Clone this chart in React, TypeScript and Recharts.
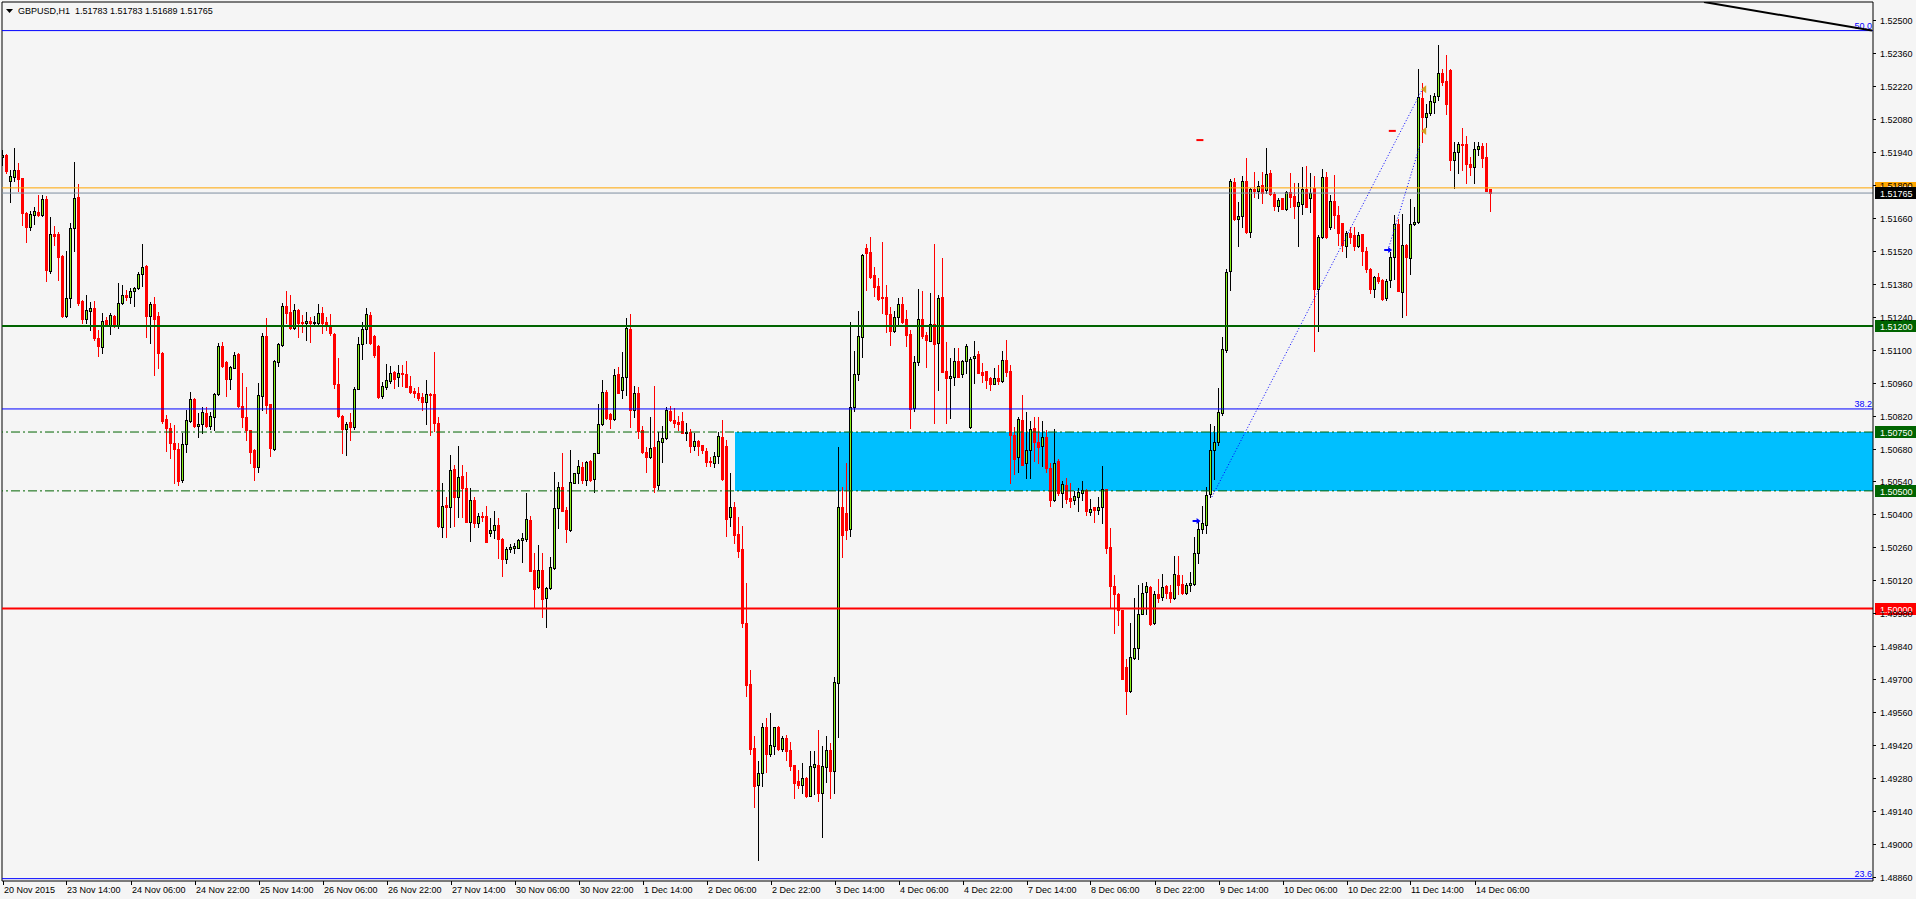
import React from "react";
import { ComposedChart, Bar, XAxis, YAxis, ReferenceLine, ReferenceArea, ReferenceDot } from "recharts";

const FONT = "'Liberation Sans', Arial, sans-serif";
const BULL = "#86f01a";
const BEAR = "#ff0000";

const OPEN = [
1.51920,1.51928,1.51817,1.51834,1.51865,1.51827,1.51681,1.51622,1.51670,1.51684,
1.51670,1.51740,1.51435,1.51590,1.51590,1.51497,1.51242,1.51320,1.51615,1.51747,
1.51306,1.51230,1.51265,1.51275,1.51148,1.51112,1.51225,1.51204,1.51242,1.51204,
1.51300,1.51332,1.51325,1.51348,1.51360,1.51420,1.51455,1.51244,1.51293,1.51242,
1.51087,1.50805,1.50765,1.50702,1.50680,1.50546,1.50700,1.50798,1.50891,1.50777,
1.50785,1.50829,1.50775,1.50815,1.50910,1.51115,1.51048,1.50976,1.51024,1.51081,
1.50862,1.50815,1.50758,1.50673,1.50602,1.50903,1.51157,1.50869,1.50680,1.51046,
1.51119,1.51285,1.51258,1.51190,1.51267,1.51218,1.51211,1.51223,1.51213,1.51213,
1.51257,1.51218,1.51197,1.51166,1.50956,1.50820,1.50761,1.50791,1.50770,1.50934,
1.51122,1.51187,1.51247,1.51157,1.51115,1.50903,1.50942,1.50968,1.51005,1.50982,
1.50999,1.50997,1.50946,1.50924,1.50915,1.50900,1.50879,1.50910,1.50912,1.50787,
1.50348,1.50440,1.50430,1.50593,1.50476,1.50563,1.50511,1.50369,1.50461,1.50362,
1.50393,1.50393,1.50323,1.50334,1.50355,1.50296,1.50209,1.50252,1.50256,1.50259,
1.50291,1.50294,1.50376,1.50164,1.50091,1.50164,1.50044,1.50086,1.50171,1.50426,
1.50515,1.50419,1.50334,1.50535,1.50575,1.50600,1.50546,1.50627,1.50549,1.50663,
1.50783,1.50919,1.50827,1.50804,1.50997,1.50929,1.50983,1.51188,1.50844,1.50915,
1.50759,1.50665,1.50643,1.50688,1.50524,1.50709,1.50723,1.50840,1.50801,1.50793,
1.50798,1.50745,1.50749,1.50692,1.50712,1.50695,1.50670,1.50628,1.50617,1.50648,
1.50730,1.50691,1.50390,1.50433,1.50317,1.50253,1.49937,1.49680,1.49406,1.49251,
1.49303,1.49498,1.49382,1.49418,1.49498,1.49402,1.49449,1.49399,1.49335,1.49268,
1.49251,1.49282,1.49205,1.49328,1.49335,1.49218,1.49328,1.49399,1.49311,1.49685,
1.50433,1.50407,1.50338,1.50855,1.50995,1.51155,1.51530,1.51516,1.51417,1.51370,
1.51323,1.51325,1.51251,1.51180,1.51237,1.51294,1.51230,1.51166,1.50851,1.51049,
1.51229,1.51162,1.51138,1.51207,1.51127,1.51322,1.51009,1.50978,1.50985,1.51053,
1.50995,1.51053,1.50770,1.51063,1.51081,1.51006,1.51009,1.50978,1.50954,1.50981,
1.50968,1.51056,1.51009,1.50737,1.50645,1.50801,1.50617,1.50674,1.50769,1.50709,
1.50692,1.50727,1.50599,1.50463,1.50628,1.50490,1.50523,1.50469,1.50463,1.50474,
1.50490,1.50502,1.50409,1.50430,1.50420,1.50433,1.50506,1.50263,1.50095,1.50063,
1.49994,1.49754,1.49650,1.49791,1.49832,1.49978,1.50072,1.50092,1.49938,1.50063,
1.50051,1.50095,1.50072,1.50043,1.50144,1.50103,1.50068,1.50100,1.50105,1.50235,
1.50336,1.50357,1.50485,1.50674,1.50706,1.50831,1.51100,1.51433,1.51812,1.51656,
1.51669,1.51818,1.51600,1.51782,1.51774,1.51799,1.51779,1.51851,1.51763,1.51709,
1.51742,1.51698,1.51770,1.51753,1.51710,1.51719,1.51781,1.51743,1.51785,1.51356,
1.51577,1.51832,1.51622,1.51733,1.51672,1.51637,1.51540,1.51594,1.51587,1.51540,
1.51591,1.51520,1.51441,1.51356,1.51410,1.51396,1.51318,1.51396,1.51492,1.51634,
1.51346,1.51545,1.51488,1.51634,1.51641,1.52167,1.52089,1.52104,1.52153,1.52179,
1.52276,1.52242,1.52288,1.51905,1.51941,1.51972,1.51972,1.51888,1.51877,1.51951,
1.51965,1.51919,1.51783,
];

const HIGH = [
1.51950,1.51930,1.51863,1.51956,1.51891,1.51831,1.51686,1.51690,1.51704,1.51756,
1.51756,1.51752,1.51662,1.51625,1.51598,1.51502,1.51519,1.51636,1.51898,1.51803,
1.51310,1.51332,1.51303,1.51306,1.51183,1.51254,1.51240,1.51254,1.51247,1.51381,
1.51374,1.51353,1.51360,1.51367,1.51431,1.51548,1.51459,1.51303,1.51322,1.51259,
1.51089,1.50822,1.50787,1.50780,1.50702,1.50744,1.50843,1.50921,1.50893,1.50829,
1.50855,1.50857,1.50835,1.50917,1.51129,1.51133,1.51053,1.51030,1.51091,1.51084,
1.50999,1.50942,1.50760,1.50676,1.50959,1.51169,1.51234,1.50871,1.51056,1.51129,
1.51299,1.51350,1.51332,1.51292,1.51271,1.51247,1.51261,1.51237,1.51242,1.51293,
1.51279,1.51240,1.51251,1.51169,1.51063,1.50822,1.50794,1.50829,1.50942,1.51155,
1.51218,1.51275,1.51261,1.51162,1.51119,1.50964,1.51039,1.51030,1.51010,1.51033,
1.51035,1.51052,1.50988,1.50936,1.50940,1.50917,1.50971,1.50915,1.51092,1.50815,
1.50535,1.50476,1.50653,1.50610,1.50691,1.50610,1.50582,1.50511,1.50476,1.50405,
1.50410,1.50436,1.50384,1.50416,1.50384,1.50298,1.50260,1.50273,1.50277,1.50294,
1.50320,1.50493,1.50393,1.50235,1.50270,1.50235,1.50093,1.50221,1.50579,1.50539,
1.50660,1.50433,1.50674,1.50578,1.50631,1.50621,1.50627,1.50631,1.50661,1.50869,
1.50971,1.50929,1.50830,1.51016,1.51028,1.51092,1.51233,1.51252,1.50946,1.50940,
1.50776,1.50688,1.50813,1.50946,1.50752,1.50776,1.50855,1.50861,1.50851,1.50818,
1.50837,1.50787,1.50762,1.50745,1.50714,1.50697,1.50681,1.50642,1.50667,1.50752,
1.50801,1.50716,1.50577,1.50454,1.50391,1.50351,1.50110,1.49739,1.49459,1.49354,
1.49515,1.49534,1.49555,1.49499,1.49500,1.49459,1.49463,1.49435,1.49337,1.49314,
1.49345,1.49284,1.49396,1.49396,1.49484,1.49416,1.49459,1.49430,1.49711,1.50688,
1.50518,1.50617,1.51219,1.51094,1.51265,1.51506,1.51549,1.51580,1.51452,1.51403,
1.51559,1.51374,1.51282,1.51264,1.51318,1.51322,1.51268,1.51185,1.51074,1.51357,
1.51349,1.51176,1.51339,1.51549,1.51332,1.51488,1.51134,1.51063,1.51105,1.51105,
1.51056,1.51124,1.51070,1.51137,1.51095,1.51042,1.51010,1.50985,1.51020,1.51035,
1.51094,1.51141,1.51035,1.50773,1.50812,1.50907,1.50836,1.50798,1.50812,1.50815,
1.50797,1.50759,1.50620,1.50762,1.50636,1.50544,1.50555,1.50534,1.50498,1.50511,
1.50544,1.50507,1.50466,1.50433,1.50474,1.50604,1.50508,1.50344,1.50144,1.50065,
1.49996,1.49786,1.49937,1.50043,1.50100,1.50108,1.50111,1.50095,1.50076,1.50124,
1.50149,1.50100,1.50100,1.50225,1.50222,1.50141,1.50108,1.50157,1.50303,1.50368,
1.50436,1.50518,1.50783,1.50775,1.50937,1.51152,1.51444,1.51823,1.51828,1.51725,
1.51839,1.51916,1.51786,1.51856,1.51815,1.51856,1.51958,1.51864,1.51770,1.51742,
1.51744,1.51774,1.51852,1.51806,1.51809,1.51874,1.51880,1.51849,1.51838,1.51587,
1.51866,1.51856,1.51757,1.51842,1.51710,1.51639,1.51605,1.51620,1.51620,1.51601,
1.51593,1.51537,1.51445,1.51413,1.51424,1.51398,1.51399,1.51516,1.51672,1.51654,
1.51676,1.51549,1.51738,1.51705,1.52291,1.52234,1.52143,1.52182,1.52191,1.52394,
1.52291,1.52351,1.52291,1.51983,1.51983,1.52040,1.52007,1.51920,1.51983,1.51983,
1.51976,1.51976,1.51783,
];

const LOW = [
1.51884,1.51851,1.51728,1.51817,1.51772,1.51629,1.51558,1.51608,1.51633,1.51667,
1.51668,1.51393,1.51427,1.51544,1.51395,1.51240,1.51237,1.51282,1.51520,1.51289,
1.51211,1.51211,1.51183,1.51141,1.51073,1.51087,1.51204,1.51166,1.51197,1.51190,
1.51293,1.51310,1.51300,1.51286,1.51357,1.51371,1.51155,1.51126,1.50992,1.51020,
1.50787,1.50670,1.50638,1.50532,1.50525,1.50539,1.50666,1.50794,1.50772,1.50730,
1.50744,1.50772,1.50761,1.50758,1.50907,1.51027,1.50905,1.50931,1.51020,1.50857,
1.50772,1.50716,1.50620,1.50546,1.50581,1.50843,1.50832,1.50648,1.50673,1.51030,
1.51115,1.51215,1.51187,1.51187,1.51155,1.51176,1.51141,1.51131,1.51203,1.51206,
1.51169,1.51183,1.51162,1.50935,1.50815,1.50662,1.50651,1.50716,1.50761,1.50931,
1.51061,1.51126,1.51123,1.51070,1.50893,1.50896,1.50931,1.50959,1.50935,1.50945,
1.50946,1.50940,1.50917,1.50900,1.50886,1.50844,1.50784,1.50738,1.50756,1.50348,
1.50303,1.50303,1.50345,1.50351,1.50391,1.50391,1.50368,1.50289,1.50348,1.50348,
1.50370,1.50284,1.50308,1.50299,1.50214,1.50139,1.50192,1.50242,1.50235,1.50256,
1.50199,1.50289,1.50160,1.50001,1.50086,1.49966,1.49923,1.50082,1.50167,1.50341,
1.50415,1.50285,1.50331,1.50532,1.50535,1.50535,1.50525,1.50543,1.50497,1.50662,
1.50780,1.50807,1.50766,1.50801,1.50916,1.50893,1.50907,1.50773,1.50815,1.50723,
1.50663,1.50582,1.50638,1.50497,1.50510,1.50624,1.50719,1.50798,1.50773,1.50759,
1.50745,1.50716,1.50667,1.50674,1.50653,1.50662,1.50606,1.50606,1.50603,1.50617,
1.50548,1.50308,1.50351,1.50280,1.50221,1.49923,1.49629,1.49382,1.49159,1.48932,
1.49246,1.49307,1.49373,1.49382,1.49399,1.49396,1.49357,1.49314,1.49194,1.49236,
1.49215,1.49201,1.49204,1.49212,1.49184,1.49031,1.49265,1.49194,1.49215,1.49456,
1.50218,1.50294,1.50310,1.50840,1.50971,1.51067,1.51353,1.51405,1.51328,1.51311,
1.51257,1.51176,1.51120,1.51176,1.51205,1.51214,1.51115,1.50766,1.50840,1.51035,
1.51150,1.51025,1.51136,1.50787,1.50928,1.51005,1.50787,1.50808,1.50950,1.50982,
1.50985,1.51002,1.50766,1.50960,1.51001,1.50964,1.50935,1.50928,1.50953,1.50952,
1.50964,1.50988,1.50532,1.50572,1.50582,1.50609,1.50553,1.50553,1.50628,1.50620,
1.50606,1.50580,1.50436,1.50458,1.50482,1.50430,1.50450,1.50430,1.50445,1.50414,
1.50463,1.50397,1.50397,1.50368,1.50401,1.50365,1.50235,1.50002,1.49897,1.49929,
1.49699,1.49552,1.49645,1.49786,1.49786,1.49975,1.49975,1.49930,1.49933,1.50030,
1.50035,1.50043,1.50030,1.50040,1.50063,1.50060,1.50060,1.50073,1.50100,1.50193,
1.50320,1.50323,1.50474,1.50550,1.50693,1.50823,1.51092,1.51352,1.51652,1.51539,
1.51620,1.51595,1.51580,1.51750,1.51742,1.51721,1.51766,1.51758,1.51693,1.51688,
1.51696,1.51693,1.51705,1.51658,1.51540,1.51676,1.51704,1.51686,1.51095,1.51180,
1.51573,1.51573,1.51611,1.51615,1.51545,1.51520,1.51492,1.51552,1.51523,1.51537,
1.51460,1.51431,1.51339,1.51325,1.51382,1.51311,1.51311,1.51368,1.51399,1.51348,
1.51240,1.51247,1.51421,1.51629,1.51637,1.51983,1.52047,1.52097,1.52104,1.52160,
1.52224,1.52101,1.51863,1.51785,1.51852,1.51863,1.51806,1.51842,1.51806,1.51927,
1.51874,1.51773,1.51689,
];

const CLOSE = [
1.51928,1.51860,1.51837,1.51865,1.51823,1.51681,1.51622,1.51674,1.51688,1.51671,
1.51741,1.51438,1.51589,1.51582,1.51494,1.51242,1.51320,1.51615,1.51742,1.51296,
1.51230,1.51268,1.51275,1.51148,1.51115,1.51220,1.51208,1.51245,1.51204,1.51300,
1.51332,1.51325,1.51348,1.51360,1.51421,1.51451,1.51244,1.51293,1.51230,1.51084,
1.50798,1.50765,1.50702,1.50680,1.50543,1.50700,1.50801,1.50891,1.50777,1.50784,
1.50833,1.50775,1.50818,1.50911,1.51115,1.51031,1.50976,1.51027,1.51077,1.50862,
1.50815,1.50758,1.50666,1.50602,1.50907,1.51157,1.50864,1.50682,1.51053,1.51122,
1.51285,1.51257,1.51190,1.51267,1.51211,1.51211,1.51220,1.51213,1.51217,1.51254,
1.51214,1.51206,1.51169,1.50956,1.50819,1.50761,1.50786,1.50770,1.50931,1.51122,
1.51187,1.51250,1.51126,1.51077,1.50900,1.50945,1.50971,1.50999,1.50974,1.50999,
1.50996,1.50943,1.50922,1.50915,1.50893,1.50879,1.50912,1.50907,1.50787,1.50349,
1.50436,1.50433,1.50589,1.50476,1.50558,1.50511,1.50369,1.50461,1.50365,1.50393,
1.50390,1.50285,1.50334,1.50355,1.50294,1.50209,1.50252,1.50263,1.50266,1.50291,
1.50301,1.50381,1.50161,1.50085,1.50164,1.50041,1.50086,1.50175,1.50426,1.50518,
1.50416,1.50337,1.50536,1.50575,1.50607,1.50546,1.50621,1.50546,1.50660,1.50783,
1.50919,1.50808,1.50806,1.50992,1.50917,1.50983,1.51191,1.50844,1.50915,1.50756,
1.50664,1.50643,1.50681,1.50518,1.50712,1.50723,1.50844,1.50801,1.50790,1.50784,
1.50747,1.50749,1.50692,1.50712,1.50692,1.50674,1.50624,1.50624,1.50648,1.50733,
1.50549,1.50382,1.50433,1.50313,1.50246,1.49937,1.49675,1.49403,1.49246,1.49303,
1.49498,1.49382,1.49420,1.49498,1.49402,1.49449,1.49396,1.49331,1.49261,1.49251,
1.49282,1.49204,1.49331,1.49340,1.49218,1.49331,1.49399,1.49311,1.49687,1.50433,
1.50313,1.50334,1.50855,1.50996,1.51158,1.51502,1.51509,1.51407,1.51367,1.51315,
1.51321,1.51250,1.51180,1.51240,1.51294,1.51219,1.51162,1.50846,1.51046,1.51229,
1.51159,1.51141,1.51207,1.51124,1.51318,1.51006,1.50978,1.50989,1.51053,1.50985,
1.51053,1.51115,1.51059,1.51073,1.51002,1.50992,1.50971,1.50954,1.50978,1.50967,
1.51056,1.51006,1.50737,1.50634,1.50805,1.50611,1.50674,1.50761,1.50709,1.50688,
1.50727,1.50599,1.50463,1.50620,1.50490,1.50531,1.50466,1.50458,1.50477,1.50495,
1.50502,1.50414,1.50425,1.50417,1.50433,1.50510,1.50258,1.50095,1.50063,1.49994,
1.49702,1.49650,1.49796,1.49832,1.49978,1.50068,1.50095,1.49933,1.50063,1.50046,
1.50092,1.50068,1.50043,1.50149,1.50100,1.50068,1.50100,1.50108,1.50235,1.50336,
1.50365,1.50482,1.50674,1.50706,1.50836,1.51103,1.51428,1.51818,1.51656,1.51669,
1.51818,1.51600,1.51782,1.51774,1.51795,1.51766,1.51847,1.51763,1.51709,1.51734,
1.51698,1.51770,1.51750,1.51710,1.51729,1.51781,1.51707,1.51764,1.51356,1.51577,
1.51832,1.51577,1.51733,1.51672,1.51594,1.51545,1.51594,1.51577,1.51540,1.51587,
1.51520,1.51441,1.51356,1.51410,1.51393,1.51314,1.51393,1.51492,1.51634,1.51350,
1.51545,1.51492,1.51634,1.51644,1.52171,1.52089,1.52104,1.52156,1.52177,1.52274,
1.52238,1.52143,1.51905,1.51941,1.51972,1.51969,1.51888,1.51877,1.51951,1.51965,
1.51915,1.51775,1.51765,
];

const TIME_TICKS = [0, 16, 32, 48, 64, 80, 96, 112, 128, 144, 160, 176, 192, 208, 224, 240, 256, 272, 288, 304, 320, 336, 352, 368];
const TIME_LABELS = [
  "20 Nov 2015", "23 Nov 14:00", "24 Nov 06:00", "24 Nov 22:00", "25 Nov 14:00", "26 Nov 06:00",
  "26 Nov 22:00", "27 Nov 14:00", "30 Nov 06:00", "30 Nov 22:00", "1 Dec 14:00", "2 Dec 06:00",
  "2 Dec 22:00", "3 Dec 14:00", "4 Dec 06:00", "4 Dec 22:00", "7 Dec 14:00", "8 Dec 06:00",
  "8 Dec 22:00", "9 Dec 14:00", "10 Dec 06:00", "10 Dec 22:00", "11 Dec 14:00", "14 Dec 06:00",
];
const PRICE_TICKS = [
  1.525, 1.5236, 1.5222, 1.5208, 1.5194, 1.518, 1.5166, 1.5152, 1.5138, 1.5124, 1.511, 1.5096, 1.5082, 1.5068,
  1.5054, 1.504, 1.5026, 1.5012, 1.4998, 1.4984, 1.497, 1.4956, 1.4942, 1.4928, 1.4914, 1.49, 1.4886,
];

const X_MIN = -0.25;
const X_MAX = 467.5;
const Y_MIN = 1.48843;
const Y_MAX = 1.525765;

const ASK = 1.51787;
const BID = 1.51765;
const SUPPORT_LEVELS = [1.512, 1.5];
const ZONE_TOP = 1.5075;
const ZONE_BOTTOM = 1.505;
const ZONE_START = 183;
const FIB_LEVELS = [
  { price: 1.52455, text: "50.0" },
  { price: 1.50848, text: "38.2" },
  { price: 1.48853, text: "23.6" },
];
const TREND_LINE = [{ x: 425.25, y: 1.525765 }, { x: 467.25, y: 1.52455 }];
const DOTTED_1 = [{ x: 302.2, y: 1.50474 }, { x: 355, y: 1.52211 }];
const DOTTED_2 = [{ x: 346.25, y: 1.51523 }, { x: 354.25, y: 1.51969 }];
const BUY_MARKS = [{ x: 298.4, y: 1.50372 }, { x: 346.3, y: 1.51523 }];
const RED_MARKS = [{ x: 299.1, y: 1.5199 }, { x: 347.2, y: 1.52029 }];
const GOLD_MARKS = [{ x: 355.3, y: 1.52206 }, { x: 355.3, y: 1.52029 }];

const rows = OPEN.map((o, i) => ({ i, o, h: HIGH[i], l: LOW[i], c: CLOSE[i], range: [LOW[i], HIGH[i]] }));

function Candle(props: any) {
  const { x, y, width, height, payload } = props;
  if (payload == null || x == null || y == null || isNaN(x) || isNaN(y)) return null;
  const top = Math.min(y, y + height);
  const bot = Math.max(y, y + height);
  const { o, h, l, c } = payload;
  const span = h - l;
  const toY = (p: number) => (span > 0 ? top + ((h - p) / span) * (bot - top) : top);
  const cx = Math.floor(x + width / 2);
  const bull = c >= o;
  const wTop = Math.round(top);
  const wBot = Math.max(wTop + 1, Math.round(bot) + 1);
  const bTop = Math.round(toY(Math.max(o, c)));
  let bBot = Math.round(toY(Math.min(o, c))) + 1;
  if (bBot <= bTop) bBot = bTop + 1;
  return (
    <g>
      <rect x={cx} y={wTop} width={1} height={wBot - wTop} fill={bull ? "#000000" : BEAR} />
      {bull ? (
        <g>
          <rect x={cx - 1} y={bTop} width={3} height={bBot - bTop} fill="#000000" />
          {bBot - bTop > 2 && <rect x={cx} y={bTop + 1} width={1} height={bBot - bTop - 2} fill={BULL} />}
        </g>
      ) : (
        <rect x={cx - 1} y={bTop} width={3} height={bBot - bTop} fill={BEAR} />
      )}
    </g>
  );
}

function TimeTick(props: any) {
  const { x, y, payload } = props;
  const idx = TIME_TICKS.indexOf(payload.value);
  const px = Math.floor(x);
  return (
    <g>
      <rect x={px} y={y} width={1} height={4} fill="#000" />
      <text x={px + 1} y={y + 12} fontSize={9} fontFamily={FONT} fill="#000" textAnchor="start">
        {idx >= 0 ? TIME_LABELS[idx] : ""}
      </text>
    </g>
  );
}

function PriceTick(props: any) {
  const { x, y, payload } = props;
  const py = Math.round(y);
  return (
    <g>
      <rect x={x - 7} y={py} width={3} height={1} fill="#000" />
      <text x={x} y={py + 3.5} fontSize={9} fontFamily={FONT} fill="#000" textAnchor="start">
        {Number(payload.value).toFixed(5)}
      </text>
    </g>
  );
}

function Tag(props: any) {
  const { viewBox, text, bg, fg } = props;
  if (!viewBox) return null;
  const yy = Math.round(viewBox.y);
  const x0 = viewBox.x + viewBox.width + 2;
  return (
    <g>
      <rect x={x0} y={yy - 6} width={43} height={12} fill={bg} />
      <text x={x0 + 5} y={yy + 3.5} fontSize={9} fontFamily={FONT} fill={fg}>
        {text}
      </text>
    </g>
  );
}

function FibLabel(props: any) {
  const { viewBox, text } = props;
  if (!viewBox) return null;
  return (
    <text x={viewBox.x + viewBox.width - 1} y={viewBox.y - 2} textAnchor="end" fontSize={9} fontFamily={FONT} fill="#0000ff">
      {text}
    </text>
  );
}

const BuyArrow = (p: any) => (
  <g>
    <polygon points={`${p.cx - 4},${p.cy - 1} ${p.cx},${p.cy - 1} ${p.cx},${p.cy - 3} ${p.cx + 4},${p.cy} ${p.cx},${p.cy + 3} ${p.cx},${p.cy + 1} ${p.cx - 4},${p.cy + 1}`} fill="#0000ff" />
  </g>
);
const RedDash = (p: any) => <rect x={p.cx - 3} y={p.cy - 1} width={7} height={2} fill="#ff0000" />;
const GoldTri = (p: any) => (
  <polygon points={`${p.cx - 3},${p.cy} ${p.cx + 2},${p.cy - 4} ${p.cx + 2},${p.cy + 4}`} fill="#d4a020" />
);

export default function App() {
  return (
    <div style={{ position: "absolute", left: 0, top: 0, width: 1916, height: 899, background: "#f5f5f5", overflow: "hidden" }}>
      <ComposedChart width={1916} height={899} data={rows} margin={{ top: 2, right: 2, bottom: 2, left: 2 }}>
        <XAxis
          dataKey="i"
          type="number"
          domain={[X_MIN, X_MAX]}
          allowDataOverflow
          ticks={TIME_TICKS}
          interval={0}
          tick={<TimeTick />}
          tickLine={false}
          tickSize={0}
          tickMargin={0}
          height={16}
          axisLine={{ stroke: "#000" }}
        />
        <YAxis
          orientation="right"
          type="number"
          domain={[Y_MIN, Y_MAX]}
          allowDataOverflow
          ticks={PRICE_TICKS}
          interval={0}
          width={41}
          tickSize={3}
          tickMargin={4}
          tickLine={false}
          tick={<PriceTick />}
          axisLine={{ stroke: "#000" }}
        />
        <ReferenceArea x1={ZONE_START} x2={X_MAX} y1={ZONE_BOTTOM} y2={ZONE_TOP} fill="#00bfff" fillOpacity={1} stroke="none" />
        <ReferenceLine x={X_MIN} stroke="#000" />
        <ReferenceLine y={Y_MAX} stroke="#000" />
        {FIB_LEVELS.map((f) => (
          <ReferenceLine key={f.text} y={f.price} stroke="#0000ff" strokeWidth={1} label={<FibLabel text={f.text} />} />
        ))}
        <Bar dataKey="range" barSize={3} isAnimationActive={false} shape={(p: any) => <Candle {...p} />} />
        <ReferenceLine y={ZONE_TOP} stroke="#006400" strokeDasharray="9 3 2 3" label={<Tag text="1.50750" bg="#006400" fg="#fff" />} />
        <ReferenceLine y={ZONE_BOTTOM} stroke="#006400" strokeDasharray="9 3 2 3" label={<Tag text="1.50500" bg="#006400" fg="#fff" />} />
        <ReferenceLine y={SUPPORT_LEVELS[0]} stroke="#006400" strokeWidth={2} label={<Tag text="1.51200" bg="#006400" fg="#fff" />} />
        <ReferenceLine y={SUPPORT_LEVELS[1]} stroke="#ff0000" strokeWidth={2} label={<Tag text="1.50000" bg="#ff0000" fg="#fff" />} />
        <ReferenceLine y={ASK} stroke="#ffa500" strokeWidth={1} label={<Tag text="1.51787" bg="#ffa500" fg="#fff" />} />
        <ReferenceLine y={BID} stroke="#7f8fa0" strokeWidth={1} label={<Tag text="1.51765" bg="#000000" fg="#fff" />} />
        <ReferenceLine segment={TREND_LINE} stroke="#000" strokeWidth={2} ifOverflow="hidden" />
        <ReferenceLine segment={DOTTED_1} stroke="#0000ff" strokeWidth={1} strokeDasharray="1 2" />
        <ReferenceLine segment={DOTTED_2} stroke="#0000ff" strokeWidth={1} strokeDasharray="1 2" />
        {BUY_MARKS.map((m, k) => (
          <ReferenceDot key={"b" + k} x={m.x} y={m.y} r={3} shape={(p: any) => <BuyArrow {...p} />} />
        ))}
        {RED_MARKS.map((m, k) => (
          <ReferenceDot key={"r" + k} x={m.x} y={m.y} r={3} shape={(p: any) => <RedDash {...p} />} />
        ))}
        {GOLD_MARKS.map((m, k) => (
          <ReferenceDot key={"g" + k} x={m.x} y={m.y} r={3} shape={(p: any) => <GoldTri {...p} />} />
        ))}
      </ComposedChart>
      <div
        style={{
          position: "absolute",
          left: 6,
          top: 5,
          display: "flex",
          alignItems: "center",
          fontFamily: FONT,
          fontSize: 9,
          lineHeight: "12px",
          color: "#000",
          whiteSpace: "pre",
        }}
      >
        <svg width={7} height={4} style={{ marginRight: 5 }}>
          <polygon points="0,0 7,0 3.5,4" fill="#000" />
        </svg>
        <span>GBPUSD,H1  1.51783 1.51783 1.51689 1.51765</span>
      </div>
    </div>
  );
}
